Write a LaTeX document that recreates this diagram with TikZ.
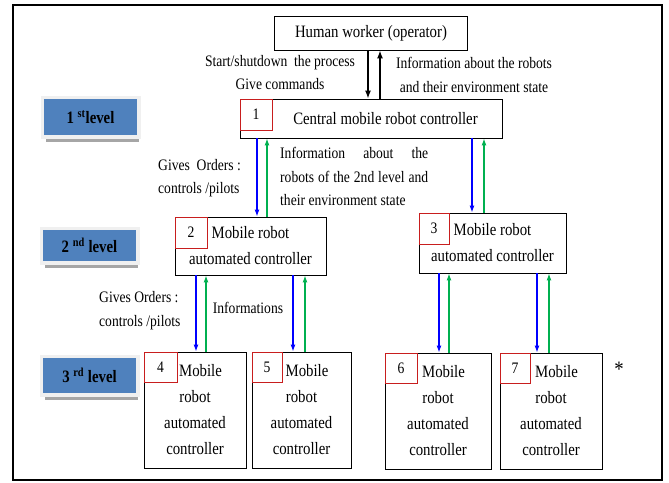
\documentclass[tikz,border=0pt]{standalone}
\usepackage{fontspec}
\setmainfont{Liberation Serif}[FakeStretch=0.85]
\usetikzlibrary{arrows.meta,shadows}
\definecolor{lvl_blue}{RGB}{79,129,189}
\definecolor{ord_blue}{RGB}{0,0,255}
\definecolor{inf_green}{RGB}{0,176,80}
\definecolor{num_red}{RGB}{200,30,30}
\tikzstyle{box}=[rectangle,draw=black,line width=0.9pt,inner sep=0pt,
  align=center,font=\fontsize{17.4}{26}\selectfont]
\tikzstyle{num}=[rectangle,draw=num_red,line width=0.9pt,inner sep=0pt,anchor=north west,
  minimum width=32pt,minimum height=31pt,font=\fontsize{16}{18}\selectfont]
\tikzstyle{lvl}=[rectangle,fill=lvl_blue,inner sep=0pt,minimum width=93pt,minimum height=36pt,
  drop shadow={shadow xshift=2pt,shadow yshift=-7pt,fill=black!35,opacity=1},
  preaction={draw=black!6,line width=7pt},font=\bfseries\fontsize{17.4}{20}\selectfont]
\tikzstyle{lbl}=[inner sep=0pt,font=\fontsize{16}{23.5}\selectfont]
\tikzstyle{cmd}=[-{Latex[length=8pt,width=6pt]},line width=1.3pt,draw=black]
\tikzstyle{ord}=[-{Latex[length=7pt,width=5pt]},line width=1.2pt,draw=ord_blue,fill=ord_blue]
\tikzstyle{inf}=[-{Latex[length=7pt,width=5pt]},line width=1.2pt,draw=inf_green,fill=inf_green]

\begin{document}
\begin{tikzpicture}[x=1pt,y=-1pt]
        \useasboundingbox (0,0) rectangle (669,482);
        \draw [line width=2pt] (13,5) rectangle (662,480);
        \node [style=lvl] (l1) at (90.5,117) {1 \textsuperscript{st}level};
        \node [style=lvl,minimum height=31pt] (l2) at (89.5,245.5) {2 \textsuperscript{nd} level};
        \node [style=lvl,minimum height=35pt] (l3) at (89.5,375.5) {3 \textsuperscript{rd} level};
        \node [style=box,minimum width=193pt,minimum height=34pt] (hw) at (371,33) {Human worker (operator)};
        \node [style=box,minimum width=262pt,minimum height=39pt] (c1) at (371,118.5) {\hspace*{29pt}Central mobile robot controller};
        \node [style=num] (n1) at (c1.north west) {1};
        \node [style=box,minimum width=151pt,minimum height=58pt] (r2) at (250.5,246) {Mobile robot\\automated controller};
        \node [style=num] (n2) at (r2.north west) {2};
        \node [style=box,minimum width=147pt,minimum height=60pt] (r3) at (492.5,243) {Mobile robot\\automated controller};
        \node [style=num,minimum width=30pt] (n3) at (r3.north west) {3};
        \node [style=box,minimum width=102pt,minimum height=116pt] (r4) at (195,410) {\hspace*{11pt}Mobile\\robot\\automated\\controller};
        \node [style=num,minimum width=33pt,minimum height=30pt] (n4) at (r4.north west) {4};
        \node [style=box,minimum width=99pt,minimum height=116pt] (r5) at (301.5,410) {\hspace*{11pt}Mobile\\robot\\automated\\controller};
        \node [style=num,minimum width=30pt,minimum height=30pt] (n5) at (r5.north west) {5};
        \node [style=box,minimum width=106pt,minimum height=116pt] (r6) at (438,411) {\hspace*{11pt}Mobile\\robot\\automated\\controller};
        \node [style=num,minimum width=32pt,minimum height=30pt] (n6) at (r6.north west) {6};
        \node [style=box,minimum width=102pt,minimum height=116pt] (r7) at (551,411) {\hspace*{11pt}Mobile\\robot\\automated\\controller};
        \node [style=num,minimum width=30pt,minimum height=30pt] (n7) at (r7.north west) {7};
        \node [style=lbl,align=center] (t1) at (280,72.5) {Start/shutdown\ \ the process\\Give commands};
        \node [style=lbl,align=center] (t2) at (474,75) {Information about the robots\\and their environment state};
        \node [style=lbl,align=left,anchor=west] (t3) at (158,178) {Gives\ \ Orders :\\controls /pilots};
        \node [style=lbl,align=left,anchor=west] (t4) at (280,176.5) {\makebox[148pt][s]{Information about the}\\\makebox[148pt][s]{robots of the 2nd level and}\\their environment state};
        \node [style=lbl,align=left,anchor=west] (t5) at (99,310.5) {Gives Orders :\\controls /pilots};
        \node [style=lbl] (t6) at (248,308) {Informations};
        \node [style=lbl,font=\fontsize{22}{24}\selectfont] (ast) at (619,369) {*};
        \draw [style=cmd] ([xshift=-3pt]hw.south) to ([xshift=-3pt]c1.north);
        \draw [style=cmd] ([xshift=9pt]c1.north) to ([xshift=9pt]hw.south);
        \draw [style=ord] ([xshift=6.5pt]r2.north |- c1.south) to ([xshift=6.5pt]r2.north);
        \draw [style=inf] ([xshift=16.5pt]r2.north) to ([xshift=16.5pt]r2.north |- c1.south);
        \draw [style=ord] ([xshift=-20.5pt]r3.north |- c1.south) to ([xshift=-20.5pt]r3.north);
        \draw [style=inf] ([xshift=-8.5pt]r3.north) to ([xshift=-8.5pt]r3.north |- c1.south);
        \draw [style=ord] ([xshift=1pt]r4.north |- r2.south) to ([xshift=1pt]r4.north);
        \draw [style=inf] ([xshift=11pt]r4.north) to ([xshift=11pt]r4.north |- r2.south);
        \draw [style=ord] ([xshift=-8.5pt]r5.north |- r2.south) to ([xshift=-8.5pt]r5.north);
        \draw [style=inf] ([xshift=3.5pt]r5.north) to ([xshift=3.5pt]r5.north |- r2.south);
        \draw [style=ord] ([xshift=1pt]r6.north |- r3.south) to ([xshift=1pt]r6.north);
        \draw [style=inf] ([xshift=11pt]r6.north) to ([xshift=11pt]r6.north |- r3.south);
        \draw [style=ord] ([xshift=-14pt]r7.north |- r3.south) to ([xshift=-14pt]r7.north);
        \draw [style=inf] ([xshift=-2pt]r7.north) to ([xshift=-2pt]r7.north |- r3.south);
    \end{tikzpicture}
\end{document}
